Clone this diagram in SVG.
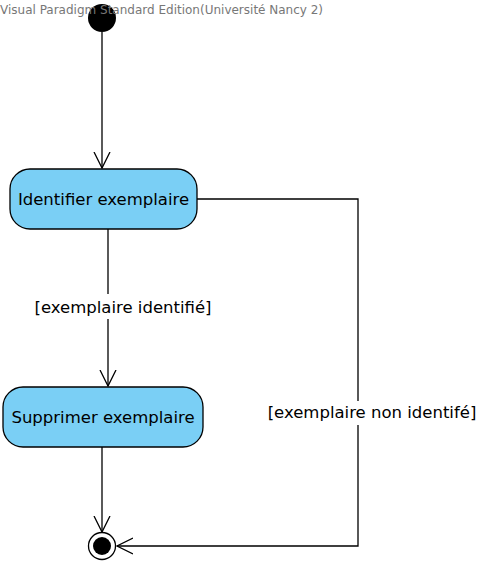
<svg xmlns="http://www.w3.org/2000/svg" width="498" height="567" viewBox="0 0 498 567">
<style>
.n{fill:#7acff5;stroke:#000;stroke-width:1.3}
.t{font-family:"DejaVu Sans",sans-serif;font-size:16.5px;fill:#000;text-anchor:middle}
.c{fill:none;stroke:#000;stroke-width:1.3}
.b{fill:#fff}
.h{font-family:"DejaVu Sans",sans-serif;font-size:12px;fill:#777}
</style>
<defs>
<marker id="a" markerWidth="20" markerHeight="20" refX="16" refY="9" orient="auto" markerUnits="userSpaceOnUse">
<path d="M0,1 L16,9 L0,17" fill="none" stroke="#000" stroke-width="1.3"/>
</marker>
</defs>
<rect width="498" height="567" fill="#fff"/>
<g id="connectors">
<path class="c" d="M102,32 L102,168" marker-end="url(#a)"/>
<path class="c" d="M108,229 L108,386" marker-end="url(#a)"/>
<rect class="b" x="33" y="294" width="182" height="25"/>
<text class="t" x="123" y="313">[exemplaire identifié]</text>
<path class="c" d="M102,447 L102,532" marker-end="url(#a)"/>
<path class="c" d="M197,199 L358,199 L358,546 L117,546" marker-end="url(#a)"/>
<rect class="b" x="265" y="401" width="214" height="24"/>
<text class="t" x="372" y="418">[exemplaire non identifé]</text>
</g>
<g id="initial"><circle cx="102" cy="18" r="14" fill="#000"/></g>
<g id="identifier">
<rect class="n" x="10" y="169" width="187" height="60" rx="20"/>
<text class="t" x="103.5" y="205">Identifier exemplaire</text>
</g>
<g id="supprimer">
<rect class="n" x="3" y="387" width="200" height="60" rx="20"/>
<text class="t" x="103" y="423">Supprimer exemplaire</text>
</g>
<g id="final">
<circle cx="102" cy="546" r="13.5" fill="#fff" stroke="#000" stroke-width="1.3"/>
<circle cx="102" cy="546" r="9" fill="#000"/>
</g>
<text class="h" x="0" y="14">Visual Paradigm Standard Edition(Université Nancy 2)</text>
</svg>
